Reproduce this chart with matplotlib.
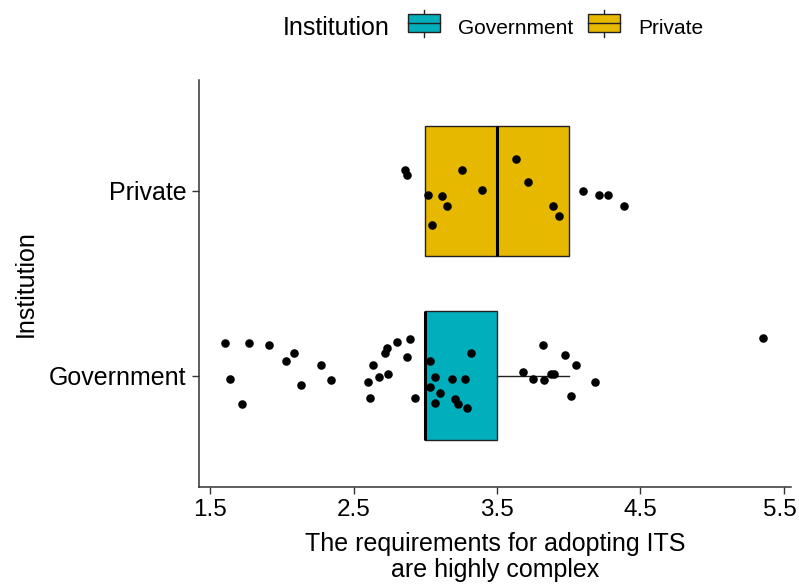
import matplotlib
matplotlib.use("Agg")
import matplotlib.pyplot as plt
from matplotlib.legend_handler import HandlerBase
from matplotlib.patches import Rectangle
from matplotlib.lines import Line2D
from matplotlib.transforms import ScaledTranslation

plt.rcParams["font.family"] = ["Liberation Sans", "DejaVu Sans"]

groups = ["Government", "Private"]
colors = ["#00AFBB", "#E7B800"]

# box statistics (q1, median, q3, whisker low, whisker high)
q1 = [3.0, 3.0]
med = [3.0, 3.5]
q3 = [3.5, 4.0]
whislo = [3.0, 3.0]
whishi = [4.0, 4.0]

# jittered points
gov_x = [1.604, 1.767, 1.908, 2.024, 2.085, 2.270, 1.639, 1.718, 2.131, 2.343,
         2.598, 2.610, 2.633, 2.679, 2.740, 2.716, 2.730, 2.798, 2.889, 2.868,
         2.928, 3.033, 3.068, 3.033, 3.102, 3.068, 3.183, 3.277, 3.207, 3.230,
         3.291, 3.316, 3.678, 3.748, 3.829, 3.876, 3.899, 3.817, 3.971, 4.052,
         4.183, 4.017, 5.353]
gov_y = [1.175, 1.175, 1.166, 1.079, 1.124, 1.061, 0.984, 0.845, 0.950, 0.975,
         0.968, 0.881, 1.061, 0.993, 1.011, 1.121, 1.151, 1.184, 1.200, 1.104,
         0.881, 1.079, 0.993, 0.941, 0.906, 0.854, 0.984, 0.984, 0.872, 0.845,
         0.827, 1.124, 1.020, 0.984, 0.975, 1.011, 1.011, 1.166, 1.114, 1.061,
         0.968, 0.888, 1.202]
priv_x = [2.854, 2.870, 3.021, 3.044, 3.114, 3.151, 3.256, 3.397, 3.629, 3.713,
          3.887, 3.934, 4.099, 4.213, 4.275, 4.382]
priv_y = [2.115, 2.085, 1.980, 1.816, 1.971, 1.919, 2.112, 2.007, 2.171, 2.050,
          1.919, 1.866, 1.998, 1.980, 1.980, 1.919]

EDGE = "#222222"


class BoxKey(HandlerBase):
    def create_artists(self, legend, orig, xd, yd, w, h, fontsize, trans):
        whisk = Line2D([xd + w / 2] * 2, [yd - 0.25 * h, yd + 1.25 * h],
                       color=EDGE, lw=1.0, transform=trans)
        box = Rectangle((xd, yd), w, h, facecolor=orig.get_facecolor(),
                        edgecolor=EDGE, lw=1.0, transform=trans)
        mid = Line2D([xd, xd + w], [yd + h / 2] * 2, color=EDGE, lw=1.0,
                     transform=trans)
        return [whisk, box, mid]


fig = plt.figure(figsize=(7.99, 5.84), dpi=100)
ax = fig.add_axes([199 / 799, 1 - 486.7 / 584, (791 - 199) / 799, (486.7 - 80) / 584])

stats = []
for i in range(2):
    stats.append(dict(med=med[i], q1=q1[i], q3=q3[i], whislo=whislo[i],
                      whishi=whishi[i], fliers=[]))
bp = ax.bxp(stats, positions=[1, 2], widths=0.7, orientation="horizontal",
            patch_artist=True, showcaps=False, showfliers=False,
            boxprops=dict(edgecolor=EDGE, linewidth=1.0),
            whiskerprops=dict(color=EDGE, linewidth=1.0),
            medianprops=dict(color="black", linewidth=2.2))
for patch, c in zip(bp["boxes"], colors):
    patch.set_facecolor(c)

ax.scatter(gov_x, gov_y, s=38, color="black", zorder=3, linewidths=0)
ax.scatter(priv_x, priv_y, s=38, color="black", zorder=3, linewidths=0)

ax.set_xlim(1.42, 5.55)
ax.set_ylim(0.4, 2.6)
ax.set_xticks([1.5, 2.5, 3.5, 4.5, 5.5])
ax.set_xticklabels(["1.5", "2.5", "3.5", "4.5", "5.5"])
ax.set_yticks([1, 2])
ax.set_yticklabels(groups)
ax.tick_params(labelsize=18, length=5, width=1.0, color="#333333", pad=4,
               labelcolor="black")
ax.tick_params(axis="x", labelsize=17.5)
for s in ["top", "right"]:
    ax.spines[s].set_visible(False)
for s in ["left", "bottom"]:
    ax.spines[s].set_linewidth(1.1)
    ax.spines[s].set_color("#333333")

ax.set_xlabel("The requirements for adopting ITS\nare highly complex",
              fontsize=18, labelpad=8, linespacing=1.08)
ax.set_ylabel("Institution", fontsize=18, labelpad=8)

handles = [Rectangle((0, 0), 1, 1, facecolor=c) for c in colors]
fig.text(283 / 799, 1 - 28 / 584, "Institution", fontsize=18, va="center", ha="left")
fig.legend(handles, groups, handler_map={Rectangle: BoxKey()},
           loc="center left", bbox_to_anchor=(408 / 799, 1 - 28 / 584),
           ncol=2, frameon=False, fontsize=15, borderpad=0, borderaxespad=0,
           handlelength=1.54, handleheight=0.95, handletextpad=0.85,
           columnspacing=0.72)

# nudge the last x tick label so it stays inside the canvas
fig.canvas.draw()
last = ax.get_xticklabels()[-1]
last.set_transform(last.get_transform() + ScaledTranslation(-3 / 72, 0, fig.dpi_scale_trans))

fig.savefig("out.png", dpi=100)
